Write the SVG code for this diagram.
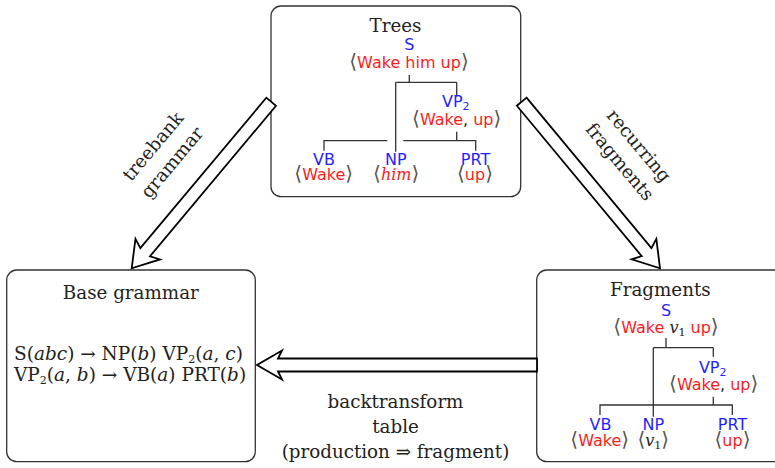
<svg xmlns="http://www.w3.org/2000/svg" width="775" height="468" viewBox="0 0 775 468">
  <style>
    .box{fill:#fff;stroke:#333;stroke-width:1.3}
    .edge{fill:none;stroke:#333;stroke-width:1.3}
    .fat{fill:#fff;stroke:#000;stroke-width:1.8;stroke-linejoin:miter}
    .title{font-family:"DejaVu Serif",serif;font-size:18.3px;fill:#222;text-anchor:middle}
    .cat{font-family:"DejaVu Sans",sans-serif;font-size:16px;fill:#1f1fff;text-anchor:middle}
    .yld{font-family:"DejaVu Sans",sans-serif;font-size:16px;fill:#222;text-anchor:middle}
    .w{fill:#ff1a1a}
    .br{fill:#555;font-size:20px}
    .m{font-family:"DejaVu Serif",serif;font-style:italic}
    .sub{font-size:11px}
    .rule{font-family:"DejaVu Serif",serif;font-size:18.5px;fill:#222}
  </style>
  <rect width="775" height="468" fill="#fff"/>

  <!-- Trees node: the full derivation tree -->
  <g id="trees">
    <rect class="box" x="271" y="6" width="249.7" height="190.7" rx="10"/>
    <text class="title" x="395.5" y="31.5">Trees</text>
    <text class="cat" x="409.3" y="50">S</text>
    <text class="yld" x="409" y="68.3"><tspan class="br">⟨</tspan><tspan class="w">Wake him up</tspan><tspan class="br">⟩</tspan></text>
    <path class="edge" d="M409.3 75V82.3M395.7 82.3H456.7M395.7 82.3V151.7M456.7 82.3V96.7M456.7 131.7V140.7M324 150.7V140.7H387.3M403.3 140.7H475.7V150.7"/>
    <text class="cat" x="455.8" y="107">VP<tspan class="sub" dy="3">2</tspan></text>
    <text class="yld" x="456.7" y="125"><tspan class="br">⟨</tspan><tspan class="w">Wake</tspan>, <tspan class="w">up</tspan><tspan class="br">⟩</tspan></text>
    <text class="cat" x="324" y="165">VB</text>
    <text class="yld" x="323.7" y="180"><tspan class="br">⟨</tspan><tspan class="w">Wake</tspan><tspan class="br">⟩</tspan></text>
    <text class="cat" x="395.8" y="165">NP</text>
    <text class="yld" x="396.2" y="180"><tspan class="br">⟨</tspan><tspan class="m w">him</tspan><tspan class="br">⟩</tspan></text>
    <text class="cat" x="475.5" y="165">PRT</text>
    <text class="yld" x="475" y="180"><tspan class="br">⟨</tspan><tspan class="w">up</tspan><tspan class="br">⟩</tspan></text>
  </g>

  <!-- Base grammar node: the extracted LCFRS rules -->
  <g id="base-grammar">
    <rect class="box" x="6.7" y="270" width="248.6" height="191.7" rx="10"/>
    <text class="title" x="130.8" y="299">Base grammar</text>
    <text class="rule" x="14" y="360">S(<tspan class="m">abc</tspan>) → NP(<tspan class="m">b</tspan>) VP<tspan class="sub" dy="3">2</tspan><tspan dy="-3">(</tspan><tspan class="m">a</tspan>, <tspan class="m">c</tspan>)</text>
    <text class="rule" x="14" y="380.7">VP<tspan class="sub" dy="3">2</tspan><tspan dy="-3">(</tspan><tspan class="m">a</tspan>, <tspan class="m">b</tspan>) → VB(<tspan class="m">a</tspan>) PRT(<tspan class="m">b</tspan>)</text>
  </g>

  <!-- Fragments node: the fragment with a frontier variable -->
  <g id="fragments">
    <rect class="box" x="536.7" y="270" width="250" height="191.7" rx="10"/>
    <text class="title" x="660.3" y="296">Fragments</text>
    <text class="cat" x="666" y="316">S</text>
    <text class="yld" x="666" y="332.7"><tspan class="br">⟨</tspan><tspan class="w">Wake</tspan> <tspan class="m">v</tspan><tspan class="sub" font-family="DejaVu Serif, serif" dy="3">1</tspan><tspan class="w" dy="-3"> up</tspan><tspan class="br">⟩</tspan></text>
    <path class="edge" d="M666 338V347.7M653.3 347.7H713.3M653.3 347.7V416.7M713.3 347.7V356.7M713.3 396.7V405M600 415V405H732.3V415"/>
    <text class="cat" x="712.7" y="372.7">VP<tspan class="sub" dy="3">2</tspan></text>
    <text class="yld" x="713.7" y="390"><tspan class="br">⟨</tspan><tspan class="w">Wake</tspan>, <tspan class="w">up</tspan><tspan class="br">⟩</tspan></text>
    <text class="cat" x="600.5" y="430">VB</text>
    <text class="yld" x="599.7" y="445.7"><tspan class="br">⟨</tspan><tspan class="w">Wake</tspan><tspan class="br">⟩</tspan></text>
    <text class="cat" x="653.3" y="430">NP</text>
    <text class="yld" x="653.3" y="445.7"><tspan class="br">⟨</tspan><tspan class="m">v</tspan><tspan class="sub" font-family="DejaVu Serif, serif" dy="3">1</tspan><tspan class="br" dy="-3">⟩</tspan></text>
    <text class="cat" x="732.5" y="430">PRT</text>
    <text class="yld" x="732.5" y="445.7"><tspan class="br">⟨</tspan><tspan class="w">up</tspan><tspan class="br">⟩</tspan></text>
  </g>

  <!-- Connectors: hollow double arrows with their labels -->
  <g id="connectors">
    <polygon class="fat" points="276.03,105.74 150.01,256.24 160.02,259.40 131.7,268.3 135.48,238.86 140.35,248.16 266.37,97.66"/>
    <polygon class="fat" points="526.55,97.68 651.44,248.12 656.34,238.84 660,268.3 631.72,259.28 641.74,256.16 516.85,105.72"/>
    <polygon class="fat" points="537,358.5 278,358.5 282,350.5 257,365 282,379.5 278,371.5 537,371.5"/>
    <g transform="translate(161.5,153.5) rotate(-50)">
      <text class="title" y="-5">treebank</text>
      <text class="title" y="20">grammar</text>
    </g>
    <g transform="translate(630.4,152.9) rotate(50)">
      <text class="title" y="-5">recurring</text>
      <text class="title" y="20">fragments</text>
    </g>
    <text class="title" x="395.5" y="408.3">backtransform</text>
    <text class="title" x="395.5" y="433.3">table</text>
    <text class="title" x="395.5" y="458.3">(production ⇒ fragment)</text>
  </g>
</svg>
